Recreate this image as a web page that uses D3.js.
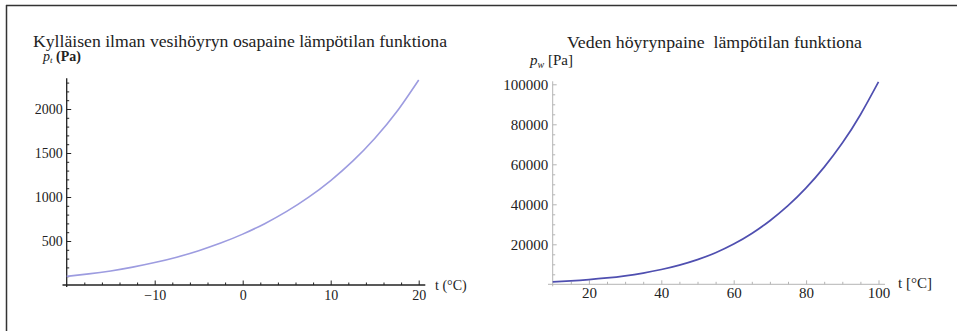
<!DOCTYPE html>
<html>
<head>
<meta charset="utf-8">
<script src="https://cdn.jsdelivr.net/npm/d3@7"></script>
<style>
  html, body { margin: 0; padding: 0; background: #fff; }
  svg { display: block; }
  text { font-family: "Liberation Serif", "DejaVu Serif", serif; }
</style>
</head>
<body>
<svg id="chart" width="957" height="331"></svg>
<script>
// ---- Data ----
const leftTitle = "Kylläisen ilman vesihöyryn osapaine lämpötilan funktiona";
const rightTitle = "Veden höyrynpaine  lämpötilan funktiona";

const leftTemps = [-20, -17.5, -15, -12.5, -10, -7.5, -5, -2.5, 0, 2.5, 5, 7.5, 10, 12.5, 15, 17.5, 20];
const leftPressure = [98, 126, 160, 203, 255, 316, 390, 476, 578, 697, 836, 998, 1187, 1407, 1665, 1968, 2330];
const leftXTicks = [-10, 0, 10, 20];
const leftYTicks = [500, 1000, 1500, 2000];

const rightTemps = [10, 15, 20, 25, 30, 35, 40, 45, 50, 55, 60, 65, 70, 75, 80, 85, 90, 95, 100];
const rightPressure = [1228, 1705, 2339, 3169, 4246, 5628, 7384, 9593, 12352, 15763, 20100, 25400, 31800, 39300, 48200, 58600, 70600, 84800, 101200];
const rightXTicks = [20, 40, 60, 80, 100];
const rightYTicks = [20000, 40000, 60000, 80000, 100000];

// ---- Drawing ----
const svg = d3.select("#chart");

// frame (top and left border)
svg.append("line").attr("x1", 6).attr("y1", 5.5).attr("x2", 957).attr("y2", 5.5)
  .attr("stroke", "#333").attr("stroke-width", 1.5);
svg.append("line").attr("x1", 6.5).attr("y1", 5).attr("x2", 6.5).attr("y2", 331)
  .attr("stroke", "#333").attr("stroke-width", 1.5);

function range(a, b, step) { const r = []; for (let v = a; v <= b + 1e-9; v += step) r.push(+v.toFixed(6)); return r; }

function drawPanel(cfg) {
  const g = svg.append("g");
  const x = d3.scaleLinear().domain(cfg.xDomain).range(cfg.xRange);
  const y = d3.scaleLinear().domain(cfg.yDomain).range(cfg.yRange);
  const x0 = x(cfg.xDomain[0]), y0 = y(0);

  // axis lines
  g.append("line").attr("x1", cfg.xAxisStart).attr("x2", x(cfg.xAxisEnd))
    .attr("y1", y0).attr("y2", y0).attr("stroke", cfg.axisColor).attr("stroke-width", cfg.axisWidth);
  g.append("line").attr("x1", x0).attr("x2", x0)
    .attr("y1", y(cfg.yAxisEnd)).attr("y2", y0 + 2).attr("stroke", cfg.axisColor).attr("stroke-width", cfg.axisWidth);

  // minor ticks
  const minorX = d3.axisBottom(x).tickValues(cfg.xMinor).tickSize(-cfg.minorLen).tickFormat("");
  const minorY = d3.axisLeft(y).tickValues(cfg.yMinor).tickSize(-cfg.minorLen).tickFormat("");
  const mx = g.append("g").attr("transform", `translate(0,${y0})`).call(minorX);
  const my = g.append("g").attr("transform", `translate(${x0},0)`).call(minorY);
  // major ticks with labels
  const majorX = d3.axisBottom(x).tickValues(cfg.xTicks).tickSize(-cfg.majorLen).tickPadding(cfg.xPad)
    .tickFormat(d => d3.format("")(d).replace("-", "\u2212"));
  const majorY = d3.axisLeft(y).tickValues(cfg.yTicks).tickSize(-cfg.majorLen).tickPadding(cfg.yPad)
    .tickFormat(d3.format("d"));
  const ax = g.append("g").attr("transform", `translate(0,${y0})`).call(majorX);
  const ay = g.append("g").attr("transform", `translate(${x0},0)`).call(majorY);
  [mx, my, ax, ay].forEach(a => {
    a.select(".domain").remove();
    a.selectAll("line").attr("stroke", cfg.tickColor).attr("stroke-width", cfg.tickWidth);
  });
  [ax, ay].forEach(a => a.selectAll("text")
    .attr("fill", "#222").style("font-family", '"Liberation Serif", serif')
    .style("font-size", cfg.tickFont + "px"));
  ax.selectAll("text").attr("dy", "0.71em");

  // curve
  const line = d3.line().x(d => x(d[0])).y(d => y(d[1])).curve(d3.curveNatural);
  g.append("path").datum(cfg.temps.map((t, i) => [t, cfg.values[i]]))
    .attr("d", line).attr("fill", "none")
    .attr("stroke", cfg.curveColor).attr("stroke-width", cfg.curveWidth);
  return { g, x, y };
}

// Left panel
const L = drawPanel({
  xDomain: [-20, 20], xRange: [66.7, 418.7],
  yDomain: [0, 2000], yRange: [285, 109],
  xAxisStart: 62.5, xAxisEnd: 20.75, yAxisEnd: 2350,
  xTicks: leftXTicks, yTicks: leftYTicks,
  xMinor: range(-18, 20, 2).filter(v => !leftXTicks.includes(v)),
  yMinor: range(100, 2300, 100).filter(v => !leftYTicks.includes(v)),
  axisColor: "#222", axisWidth: 1.3, tickColor: "#222", tickWidth: 1,
  majorLen: 4.5, minorLen: 2.5, xPad: 5, yPad: 4, tickFont: 14,
  temps: leftTemps, values: leftPressure,
  curveColor: "#9d9ce0", curveWidth: 1.6
});

// Right panel
const R = drawPanel({
  xDomain: [10, 100], xRange: [552.7, 878.5],
  yDomain: [0, 100000], yRange: [284.3, 84.3],
  xAxisStart: 548, xAxisEnd: 101.8, yAxisEnd: 101500,
  xTicks: rightXTicks, yTicks: rightYTicks,
  xMinor: range(15, 95, 5).filter(v => !rightXTicks.includes(v)),
  yMinor: range(5000, 95000, 5000).filter(v => !rightYTicks.includes(v)),
  axisColor: "#b4b4b4", axisWidth: 1, tickColor: "#b4b4b4", tickWidth: 1,
  majorLen: 4, minorLen: 2.5, xPad: 3.5, yPad: 4.5, tickFont: 15,
  temps: rightTemps, values: rightPressure,
  curveColor: "#4f4fb0", curveWidth: 1.7
});

// Titles
svg.append("text").attr("x", 33).attr("y", 46.5).attr("textLength", 414).attr("lengthAdjust", "spacingAndGlyphs")
  .style("font-size", "16px").attr("fill", "#222").text(leftTitle);
svg.append("text").attr("x", 567).attr("y", 47.5).attr("textLength", 295).attr("lengthAdjust", "spacingAndGlyphs")
  .attr("xml:space", "preserve").style("white-space", "pre")
  .style("font-size", "16.5px").attr("fill", "#222").text(rightTitle);

// Axis labels, left
const lyl = svg.append("text").attr("x", 43).attr("y", 61).attr("fill", "#222").style("font-size", "14px");
lyl.append("tspan").style("font-style", "italic").text("p");
lyl.append("tspan").style("font-style", "italic").style("font-size", "9px").attr("dy", 2).text("t");
lyl.append("tspan").attr("dy", -2).style("font-weight", "bold").text(" (Pa)");
svg.append("text").attr("x", 435).attr("y", 290).attr("fill", "#222").style("font-size", "14px").text("t (°C)");

// Axis labels, right
const ryl = svg.append("text").attr("x", 530).attr("y", 65).attr("fill", "#222").style("font-size", "15px");
ryl.append("tspan").style("font-style", "italic").text("p");
ryl.append("tspan").style("font-style", "italic").style("font-size", "10px").attr("dy", 2.5).text("w");
ryl.append("tspan").attr("dy", -2.5).text(" [Pa]");
svg.append("text").attr("x", 898).attr("y", 288).attr("fill", "#222").style("font-size", "15px").text("t [°C]");
</script>
</body>
</html>
